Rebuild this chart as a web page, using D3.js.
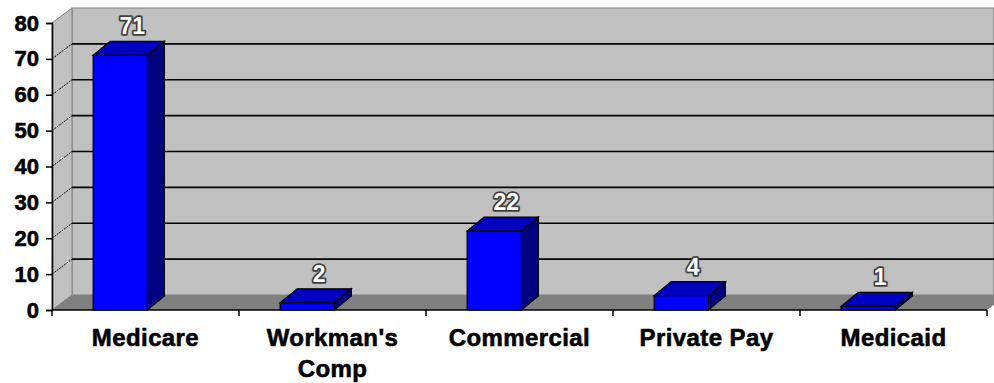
<!DOCTYPE html>
<html>
<head>
<meta charset="utf-8">
<script src="https://cdn.jsdelivr.net/npm/d3@7"></script>
<style>
  body { margin: 0; background: #fff; }
  text { font-family: "Liberation Sans", Arial, sans-serif; font-weight: bold; }
</style>
</head>
<body>
<div id="chart"></div>
<script>
// chart data
const categories = ["Medicare", "Workman's Comp", "Commercial", "Private Pay", "Medicaid"];
const counts = [71, 2, 22, 4, 1];
const yTicks = [0, 10, 20, 30, 40, 50, 60, 70, 80];

const W = 994, H = 383;
// front plane of the 3d box
const plotLeft = 52, plotRight = 987, plotBottom = 310, plotTop = 23;
// depth of the walls and of the bars
const wallDx = 20, wallDy = -15;
const barDx = 17, barDy = -14;

const svg = d3.select("#chart")
  .append("svg")
  .attr("width", W)
  .attr("height", H);

const x = d3.scaleBand()
  .domain(categories)
  .range([plotLeft, plotRight]);

const y = d3.scaleLinear()
  .domain([0, 80])
  .range([plotBottom, plotTop]);

// back wall
svg.append("rect")
  .attr("x", plotLeft + wallDx)
  .attr("y", y(80) + wallDy)
  .attr("width", W - plotLeft - wallDx)
  .attr("height", y(0) - y(80))
  .attr("fill", "#c0c0c0")
  .attr("stroke", "#808080");

// left side wall
svg.append("polygon")
  .attr("points", [[plotLeft, y(0)], [plotLeft, y(80)], [plotLeft + wallDx, y(80) + wallDy], [plotLeft + wallDx, y(0) + wallDy]].join(" "))
  .attr("fill", "#c0c0c0")
  .attr("stroke", "#808080");

// floor
svg.append("polygon")
  .attr("points", [[plotLeft, y(0)], [plotRight, y(0)], [plotRight + wallDx, y(0) + wallDy], [plotLeft + wallDx, y(0) + wallDy]].join(" "))
  .attr("fill", "#808080");

// gridlines on back wall and side wall
const gridVals = yTicks.filter(d => d > 0 && d < 80);
const grid = svg.append("g");
grid.selectAll(".back")
  .data(gridVals)
  .join("line")
  .attr("class", "back")
  .attr("x1", plotLeft + wallDx)
  .attr("x2", W)
  .attr("y1", d => y(d) + wallDy)
  .attr("y2", d => y(d) + wallDy)
  .attr("stroke", "#000")
  .attr("stroke-width", 1.6);
grid.selectAll(".side")
  .data(gridVals)
  .join("line")
  .attr("class", "side")
  .attr("x1", plotLeft)
  .attr("x2", plotLeft + wallDx)
  .attr("y1", d => y(d))
  .attr("y2", d => y(d) + wallDy)
  .attr("stroke", "#000")
  .attr("stroke-width", 1)
  .attr("stroke-dasharray", "2 1");

// bars (front, top, side faces)
const bw = x.bandwidth() * 0.29;
const bx = c => x(c) + x.bandwidth() * 0.22;
const values = categories.map((c, i) => ({c: c, v: counts[i]}));

const bars = svg.append("g")
  .selectAll("g")
  .data(values)
  .join("g");

bars.append("polygon")
  .attr("points", d => [[bx(d.c) + bw, y(d.v)], [bx(d.c) + bw + barDx, y(d.v) + barDy],
    [bx(d.c) + bw + barDx, y(0) + barDy], [bx(d.c) + bw, y(0)]].join(" "))
  .attr("fill", "#000080")
  .attr("stroke", "#000")
  .attr("stroke-width", 1.2);

bars.append("polygon")
  .attr("points", d => [[bx(d.c), y(d.v)], [bx(d.c) + barDx, y(d.v) + barDy],
    [bx(d.c) + bw + barDx, y(d.v) + barDy], [bx(d.c) + bw, y(d.v)]].join(" "))
  .attr("fill", "#0000c0")
  .attr("stroke", "#000")
  .attr("stroke-width", 1.2);

bars.append("rect")
  .attr("x", d => bx(d.c))
  .attr("y", d => y(d.v))
  .attr("width", bw)
  .attr("height", d => y(0) - y(d.v))
  .attr("fill", "#0000ff")
  .attr("stroke", "#000")
  .attr("stroke-width", 1.2);

// value labels
bars.append("text")
  .attr("x", d => bx(d.c) + bw / 2 + 12)
  .attr("y", d => y(d.v) + barDy - 7)
  .attr("text-anchor", "middle")
  .style("font-size", "23px")
  .attr("fill", "#fff")
  .attr("stroke", "#404040")
  .attr("stroke-width", 3.5)
  .attr("stroke-linejoin", "round")
  .attr("paint-order", "stroke")
  .text(d => d.v);

// y axis
svg.append("g")
  .attr("transform", `translate(${plotLeft},0)`)
  .call(d3.axisLeft(y).tickValues(yTicks).tickSize(6).tickPadding(7))
  .call(g => g.select(".domain").attr("stroke-width", 1.5))
  .call(g => g.selectAll("line").attr("stroke-width", 1.5))
  .call(g => g.selectAll("text")
    .style("font-size", "22px")
    .attr("fill", "#000")
    .attr("stroke", "#000")
    .attr("stroke-width", 0.6));

// x axis with ticks at category boundaries
const bounds = categories.map(c => x(c)).concat([plotRight]);
svg.append("line")
  .attr("x1", plotLeft).attr("x2", plotRight)
  .attr("y1", y(0)).attr("y2", y(0))
  .attr("stroke", "#000").attr("stroke-width", 1.5);
svg.selectAll(".xtick")
  .data(bounds)
  .join("line")
  .attr("class", "xtick")
  .attr("x1", d => d).attr("x2", d => d)
  .attr("y1", y(0)).attr("y2", y(0) + 6)
  .attr("stroke", "#000").attr("stroke-width", 1.5);

// category labels, wrapped where needed
const labelLines = {"Workman's Comp": ["Workman's", "Comp"]};
svg.selectAll(".xlab")
  .data(categories)
  .join("text")
  .attr("class", "xlab")
  .attr("text-anchor", "middle")
  .style("font-size", "24px")
  .style("letter-spacing", "0.4px")
  .attr("fill", "#000")
  .attr("stroke", "#000")
  .attr("stroke-width", 0.6)
  .each(function(c) {
    const lines = labelLines[c] || [c];
    d3.select(this).selectAll("tspan")
      .data(lines)
      .join("tspan")
      .attr("x", x(c) + x.bandwidth() / 2)
      .attr("y", (d, i) => 346 + i * 31)
      .text(d => d);
  });
</script>
</body>
</html>
